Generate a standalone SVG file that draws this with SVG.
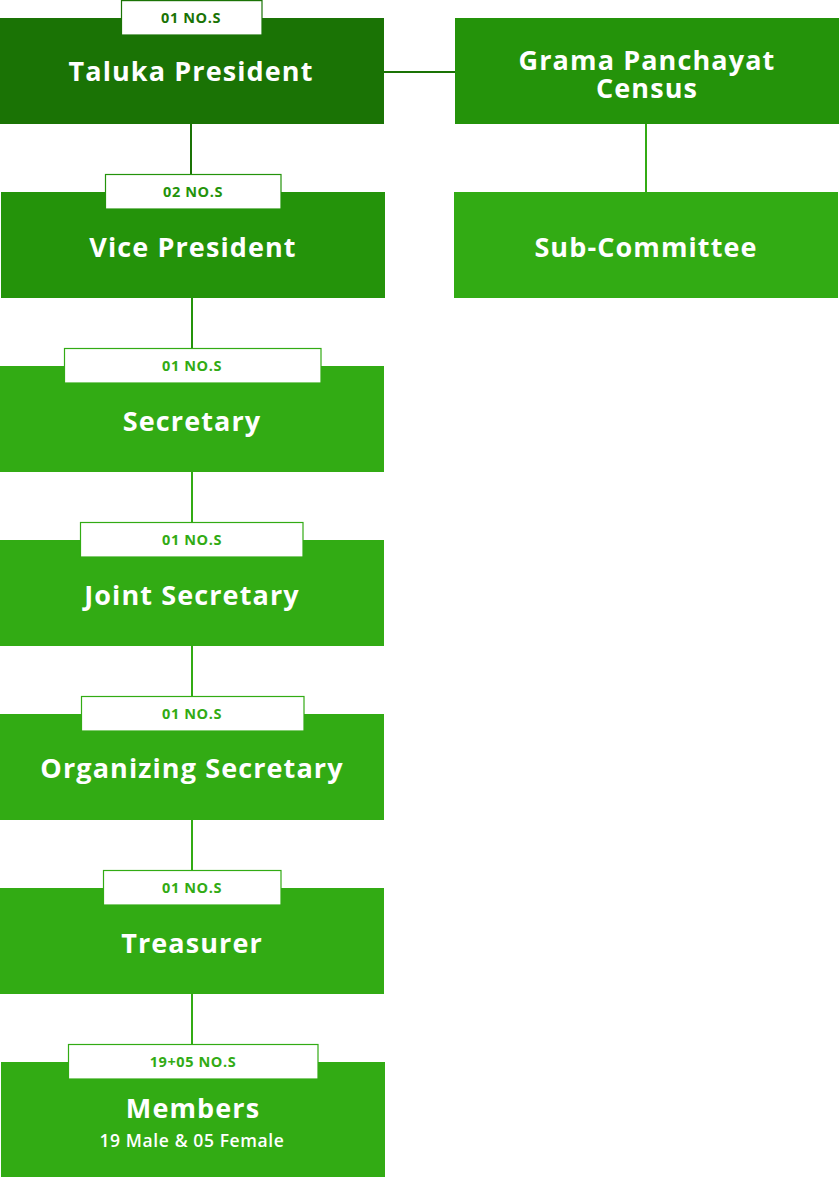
<svg xmlns="http://www.w3.org/2000/svg" width="839" height="1186" viewBox="0 0 839 1186">
<style>
.t{font-family:"Open Sans","Liberation Sans",sans-serif;font-weight:700;fill:#fff;text-anchor:middle;font-size:27px;letter-spacing:1.1px}
.l{font-family:"Open Sans","Liberation Sans",sans-serif;font-weight:700;text-anchor:middle;font-size:14.5px;letter-spacing:0.6px}
.s{font-family:"Open Sans","Liberation Sans",sans-serif;font-weight:600;fill:#fff;text-anchor:middle;font-size:17.5px;letter-spacing:0.6px}
.lb{fill:#fff;stroke-width:1.2}
.c{fill:none;stroke-width:2}
</style>
<rect width="839" height="1186" fill="#fff"/>
<g id="connectors">
<line class="c" x1="384" y1="72" x2="455" y2="72" stroke="#1a7305"/>
<line class="c" x1="191" y1="124" x2="191" y2="174" stroke="#1a7305"/>
<line class="c" x1="646" y1="124" x2="646" y2="192" stroke="#32ab14"/>
<line class="c" x1="192" y1="298" x2="192" y2="348" stroke="#24930a"/>
<line class="c" x1="192" y1="472" x2="192" y2="522" stroke="#32ab14"/>
<line class="c" x1="192" y1="646" x2="192" y2="696" stroke="#32ab14"/>
<line class="c" x1="192" y1="820" x2="192" y2="870" stroke="#32ab14"/>
<line class="c" x1="192" y1="994" x2="192" y2="1044" stroke="#32ab14"/>
</g>
<g id="taluka-president">
<rect x="0" y="18" width="384" height="106" fill="#1a7305"/>
<rect class="lb" x="121.5" y="0.6" width="140.5" height="34.4" stroke="#1a7305"/>
<text class="l" x="191" y="23" fill="#1a7305">01 NO.S</text>
<text class="t" x="191" y="81">Taluka President</text>
</g>
<g id="grama-panchayat-census">
<rect x="455" y="18" width="384" height="106" fill="#24930a"/>
<text class="t" x="647" y="70">Grama Panchayat</text>
<text class="t" x="647" y="98">Census</text>
</g>
<g id="sub-committee">
<rect x="454" y="192" width="384" height="106" fill="#32ab14"/>
<text class="t" x="646" y="257">Sub-Committee</text>
</g>
<g id="vice-president">
<rect x="1" y="192" width="384" height="106" fill="#24930a"/>
<rect class="lb" x="105.5" y="174.5" width="175.5" height="34.5" stroke="#24930a"/>
<text class="l" x="193" y="197" fill="#24930a">02 NO.S</text>
<text class="t" x="193" y="257">Vice President</text>
</g>
<g id="secretary">
<rect x="0" y="366" width="384" height="106" fill="#32ab14"/>
<rect class="lb" x="64.5" y="348.5" width="256.5" height="34.5" stroke="#32ab14"/>
<text class="l" x="192" y="371" fill="#32ab14">01 NO.S</text>
<text class="t" x="192" y="431">Secretary</text>
</g>
<g id="joint-secretary">
<rect x="0" y="540" width="384" height="106" fill="#32ab14"/>
<rect class="lb" x="80.5" y="522.5" width="222.5" height="34.5" stroke="#32ab14"/>
<text class="l" x="192" y="545" fill="#32ab14">01 NO.S</text>
<text class="t" x="192" y="605">Joint Secretary</text>
</g>
<g id="organizing-secretary">
<rect x="0" y="714" width="384" height="106" fill="#32ab14"/>
<rect class="lb" x="81.5" y="696.5" width="222.5" height="34.5" stroke="#32ab14"/>
<text class="l" x="192" y="719" fill="#32ab14">01 NO.S</text>
<text class="t" x="192" y="778">Organizing Secretary</text>
</g>
<g id="treasurer">
<rect x="0" y="888" width="384" height="106" fill="#32ab14"/>
<rect class="lb" x="103.5" y="870.5" width="177.5" height="34.5" stroke="#32ab14"/>
<text class="l" x="192" y="893" fill="#32ab14">01 NO.S</text>
<text class="t" x="192" y="953">Treasurer</text>
</g>
<g id="members">
<rect x="1" y="1062" width="384" height="115" fill="#32ab14"/>
<rect class="lb" x="68.5" y="1044.5" width="249.5" height="34.5" stroke="#32ab14"/>
<text class="l" x="193" y="1067" fill="#32ab14">19+05 NO.S</text>
<text class="t" x="193" y="1118">Members</text>
<text class="s" x="192" y="1147">19 Male &amp; 05 Female</text>
</g>
</svg>
